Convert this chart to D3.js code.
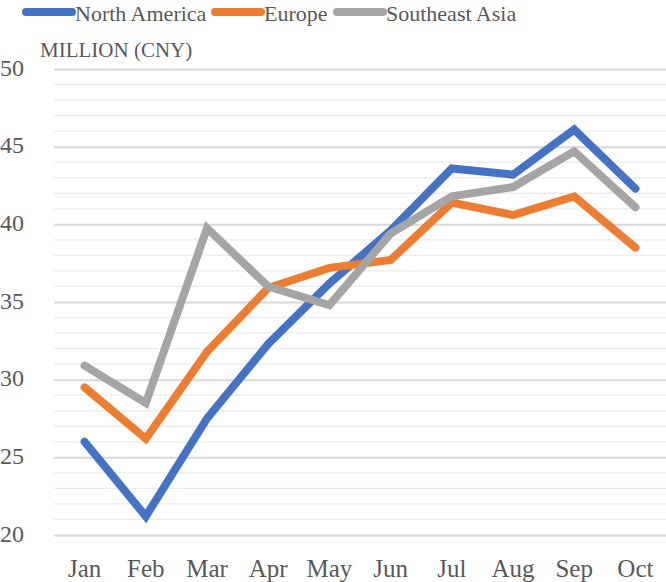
<!DOCTYPE html>
<html lang="en">
<head>
<meta charset="utf-8">
<script src="https://cdnjs.cloudflare.com/ajax/libs/d3/7.8.5/d3.min.js"></script>
<style>
  body { margin: 0; background: #fff; }
  text { font-family: "Liberation Serif", serif; fill: #595959; }
</style>
</head>
<body>
<script>
  var w = 666, h = 582;

  var months = ["Jan", "Feb", "Mar", "Apr", "May", "Jun", "Jul", "Aug", "Sep", "Oct"];
  var northAmerica = [26.0, 21.2, 27.5, 32.3, 36.2, 39.6, 43.6, 43.2, 46.1, 42.3];
  var europe = [29.5, 26.2, 31.8, 35.9, 37.2, 37.7, 41.4, 40.6, 41.8, 38.5];
  var seAsia = [30.9, 28.5, 39.75, 36.0, 34.8, 39.4, 41.8, 42.4, 44.7, 41.1];
  var seriesNames = ["North America", "Europe", "Southeast Asia"];
  var colors = ["#4472C4", "#ED7D31", "#A5A5A5"];
  var yTicks = [20, 25, 30, 35, 40, 45, 50];

  var series = [northAmerica, europe, seAsia];

  var svg = d3.select("body").append("svg")
    .attr("width", w)
    .attr("height", h);

  var x = d3.scaleBand().domain(months).range([54, 666]);
  var y = d3.scaleLinear().domain([20, 50]).range([535, 69]);

  // minor gridlines
  svg.append("g").selectAll("line")
    .data(d3.range(21, 50).filter(d => d % 5 != 0))
    .enter().append("line")
    .attr("x1", 54).attr("x2", 666)
    .attr("y1", d => y(d)).attr("y2", d => y(d))
    .attr("stroke", "#ececec")
    .attr("stroke-width", 1.3);

  // major gridlines + labels
  var yAxis = d3.axisLeft(y).tickValues(yTicks).tickSize(-612).tickPadding(8);
  var gy = svg.append("g").attr("transform", "translate(54,0)").call(yAxis);
  gy.select(".domain").remove();
  gy.selectAll(".tick line").attr("stroke", "#d9d9d9").attr("stroke-width", 2);
  gy.selectAll(".tick text")
    .attr("x", -30).attr("text-anchor", "end")
    .attr("font-size", 24).attr("dy", "0.25em")
    .style("font-family", "Liberation Serif").style("fill", "#595959");

  var xAxis = d3.axisBottom(x).tickSize(0).tickPadding(0);
  var gx = svg.append("g").attr("transform", "translate(0,535)").call(xAxis);
  gx.select(".domain").remove();
  gx.selectAll(".tick text")
    .attr("y", 42).attr("dy", 0)
    .attr("font-size", 25)
    .style("font-family", "Liberation Serif").style("fill", "#595959");

  var line = d3.line()
    .x((d, i) => x(months[i]) + x.bandwidth() / 2)
    .y(d => y(d));

  svg.append("g").selectAll("path")
    .data(series)
    .enter().append("path")
    .attr("d", line)
    .attr("fill", "none")
    .attr("stroke", (d, i) => colors[i])
    .attr("stroke-width", 8)
    .attr("stroke-linecap", "round")
    .attr("stroke-linejoin", "miter");

  // axis title
  svg.append("text")
    .attr("x", 40).attr("y", 57)
    .attr("font-size", 21)
    .text("MILLION (CNY)");

  // legend
  var legendX = [26, 215, 337];
  var lg = svg.append("g").selectAll("g")
    .data(seriesNames)
    .enter().append("g")
    .attr("transform", (d, i) => "translate(" + legendX[i] + ",0)");
  lg.append("line")
    .attr("x1", 0).attr("x2", 46)
    .attr("y1", 12).attr("y2", 12)
    .attr("stroke", (d, i) => colors[i])
    .attr("stroke-width", 8)
    .attr("stroke-linecap", "round");
  lg.append("text")
    .attr("x", 49).attr("y", 21)
    .attr("font-size", 22)
    .text(d => d);
</script>
</body>
</html>
